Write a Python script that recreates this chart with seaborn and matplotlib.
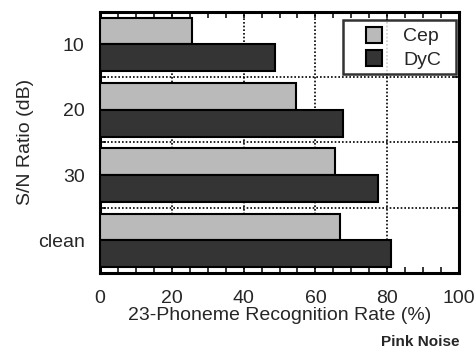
import matplotlib
matplotlib.use("Agg")
import matplotlib.pyplot as plt
import matplotlib.patches as mpatches
from matplotlib.legend_handler import HandlerPatch
from matplotlib.ticker import MultipleLocator, FixedLocator
import seaborn as sns
import pandas as pd

# S/N conditions and recognition rates per feature type
conditions = ["10", "20", "30", "clean"]
cep_rates = [25.5, 54.5, 65.5, 66.7]
dyc_rates = [48.7, 67.8, 77.5, 81.0]
series_names = ["Cep", "DyC"]
x_ticks = [0, 20, 40, 60, 80, 100]

df = pd.DataFrame({
    "condition": conditions * 2,
    "rate": cep_rates + dyc_rates,
    "feature": [series_names[0]] * len(conditions) + [series_names[1]] * len(conditions),
})

sns.set_style("white")
plt.rcParams["font.family"] = ["Liberation Sans", "DejaVu Sans"]

fig = plt.figure(figsize=(4.75, 3.49), dpi=100)
ax = fig.add_axes([0.2105, 0.218, 0.756, 0.748])

sns.barplot(data=df, y="condition", x="rate", hue="feature", order=conditions,
            hue_order=series_names, palette=["#bababa", "#343434"],
            orient="h", width=0.82, edgecolor="black", linewidth=1.5,
            saturation=1, ax=ax, zorder=3, legend=True)

ax.set_xlim(0, 100)
ax.set_ylim(len(conditions) - 0.5, -0.5)
ax.xaxis.set_major_locator(FixedLocator(x_ticks))
ax.xaxis.set_minor_locator(MultipleLocator(5))
ax.yaxis.set_minor_locator(FixedLocator([0.5, 1.5, 2.5]))

# dotted grid at the x ticks and between condition groups
for xv in x_ticks[1:-1]:
    ax.axvline(xv, color="black", linestyle=(0, (1, 1.2)), linewidth=1.2, zorder=1)
for yv in [0.5, 1.5, 2.5]:
    ax.axhline(yv, color="black", linestyle=(0, (1, 1.2)), linewidth=1.2, zorder=1)

ax.tick_params(axis="x", which="both", direction="in", top=True, bottom=True,
               length=4, width=1.3, labelsize=14, pad=12)
ax.tick_params(axis="y", which="major", length=0, labelsize=14, pad=11)
ax.tick_params(axis="y", which="minor", direction="in", left=True, right=True,
               length=4, width=1.3)

for s in ax.spines.values():
    s.set_visible(True)
    s.set_color("black")
    s.set_linewidth(2.2)

ax.set_xlabel("23-Phoneme Recognition Rate (%)", fontsize=14, labelpad=0)
ax.set_ylabel("S/N Ratio (dB)", fontsize=14, labelpad=3)


def right_aligned_swatch(legend, orig_handle, xdescent, ydescent, width, height, fontsize):
    # square swatch sitting at the right end of the handle slot
    side = 0.82 * fontsize
    return mpatches.Rectangle((-xdescent + width - side, -ydescent + (height - side) / 2),
                              side, side)


handles, labels = ax.get_legend_handles_labels()
ax.get_legend().remove()
leg = ax.legend(handles, labels, loc="upper right",
                bbox_to_anchor=(0.677, 0.5, 0.315, 0.468), mode="expand",
                fontsize=14, frameon=True, fancybox=False, edgecolor="black",
                handlelength=1.72, handleheight=1.0, handletextpad=1.08,
                borderpad=0.3, labelspacing=0.2, borderaxespad=0.0,
                handler_map={mpatches.Rectangle: HandlerPatch(patch_func=right_aligned_swatch)})
leg.get_frame().set_linewidth(1.8)

fig.text(0.968, 0.009, "Pink Noise", ha="right", va="baseline", fontsize=11,
         fontweight="bold")

fig.savefig("out.png", dpi=100)
